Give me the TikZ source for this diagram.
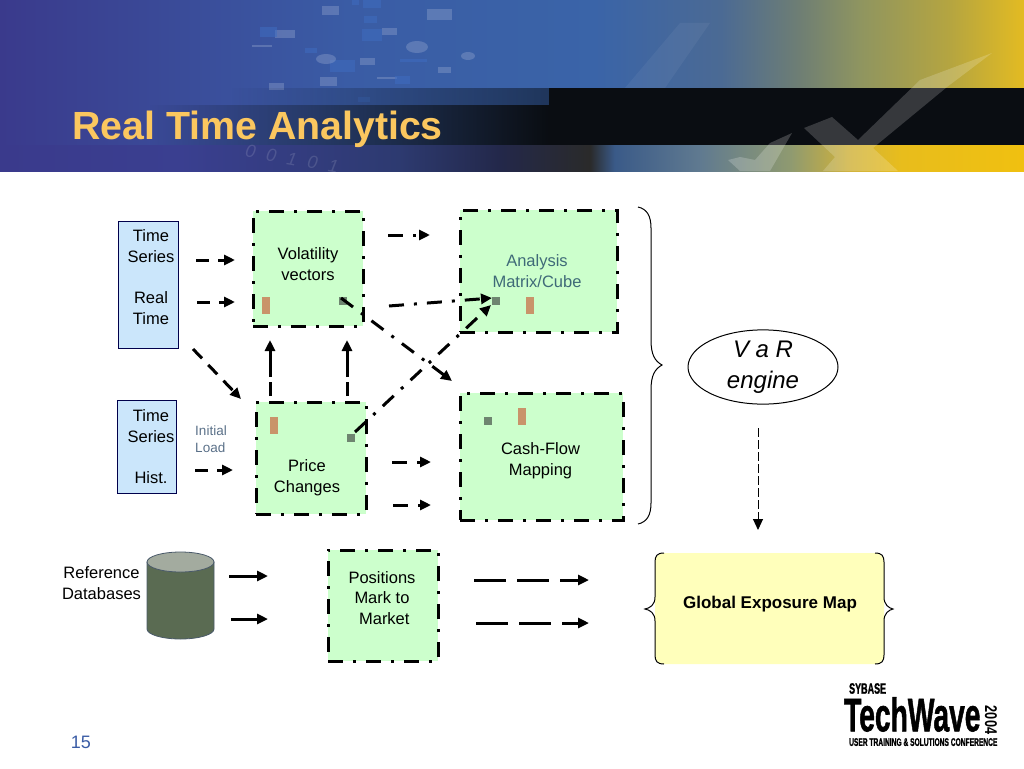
\documentclass[tikz,border=0pt]{standalone}
\usepackage{fontspec}
\setmainfont{Liberation Sans}
\newfontfamily\logofont[FakeBold=1.5]{Liberation Sans Bold}
\usepackage{tikz}
\usetikzlibrary{
  arrows.meta,
  calc,
  fadings,
  shapes.geometric
}
\definecolor{skyA}{HTML}{3A3A8C}
\definecolor{skyB}{HTML}{3A5CA5}
\definecolor{skyC}{HTML}{3A64A8}
\definecolor{skyD}{HTML}{4B6A94}
\definecolor{skyE}{HTML}{6E7E74}
\definecolor{skyF}{HTML}{8F9560}
\definecolor{skyG}{HTML}{B5A540}
\definecolor{skyH}{HTML}{E3BB22}
\definecolor{lowA}{HTML}{3A3F90}
\definecolor{lowB}{HTML}{2D3A70}
\definecolor{lowC}{HTML}{23284A}
\definecolor{lowD}{HTML}{2A2A2A}
\definecolor{lowE}{HTML}{3A5A88}
\definecolor{lowF}{HTML}{607A90}
\definecolor{lowG}{HTML}{8F9A70}
\definecolor{lowH}{HTML}{D0B23A}
\definecolor{lowI}{HTML}{E8BD1C}
\definecolor{bandDark}{HTML}{0A0D12}
\definecolor{bandYellow}{HTML}{F0C010}
\definecolor{titleGold}{HTML}{FBC75F}
\definecolor{boxGreen}{HTML}{CCFFCC}
\definecolor{boxBlue}{HTML}{CBE6FB}
\definecolor{boxYellow}{HTML}{FFFFBB}
\definecolor{markTan}{HTML}{C9946A}
\definecolor{markGrey}{HTML}{6E8570}
\definecolor{noteBlue}{HTML}{5A7088}
\definecolor{cubeBlue}{HTML}{3F6A78}
\definecolor{dbBody}{HTML}{5A6B52}
\definecolor{dbTop}{HTML}{A3AB9F}
\definecolor{dbEdge}{HTML}{4A5A6A}
\definecolor{bitBlue}{HTML}{3E6CC0}
\pgfdeclarehorizontalshading{skyshade}{100bp}{
  color(0bp)=(skyA); color(25bp)=(skyA); color(42bp)=(skyB); color(54bp)=(skyC);
  color(60.2bp)=(skyD); color(64bp)=(skyE); color(67bp)=(skyF); color(71.4bp)=(skyG);
  color(75bp)=(skyH); color(100bp)=(skyH)}
\pgfdeclarehorizontalshading{lowshade}{100bp}{
  color(0bp)=(skyA); color(25bp)=(skyA); color(33.8bp)=(lowA); color(44.5bp)=(lowB);
  color(49.4bp)=(lowC); color(53.8bp)=(lowD); color(55bp)=(lowE); color(59.2bp)=(lowF);
  color(63.6bp)=(lowG); color(66.5bp)=(lowH); color(69bp)=(lowI); color(75bp)=(bandYellow);
  color(100bp)=(bandYellow)}
\tikzset{>={Stealth[length=11pt,width=10pt,inset=0pt]}}
\tikzset{
  greenbox/.style={draw=black,fill=boxGreen,line width=3pt,inner sep=0pt,
    dash pattern=on 15pt off 10pt on 3pt off 10pt},
  bluebox/.style={draw=black!70!blue,fill=boxBlue,line width=1pt,inner sep=0pt},
  bodytext/.style={font=\fontsize{16.5}{20.8}\selectfont,align=center,inner sep=0pt},
  dashflow/.style={->,line width=3pt,dash pattern=on 13pt off 9pt},
  dotflow/.style={->,line width=3pt,dash pattern=on 15pt off 10pt on 3pt off 10pt},
  longflow/.style={->,line width=3pt,dash pattern=on 32pt off 11pt},
  upflow/.style={->,line width=3pt,dash pattern=on 14pt off 5pt on 50pt off 1pt},
  solidflow/.style={->,line width=3pt},
  tanmark/.style={fill=markTan,inner sep=0pt,minimum width=8pt,minimum height=17pt},
  greymark/.style={fill=markGrey,inner sep=0pt,minimum size=8pt},
  decobit/.style={fill=white!50!skyB,opacity=.35},
  decoblue/.style={fill=bitBlue,opacity=.55},
  logotext/.style={inner sep=0pt}
}
\begin{document}
\begin{tikzpicture}[x=1pt,y=-1pt]
	\useasboundingbox (0,0) rectangle (1024,768);
	% title banner
	\shade[shading=skyshade] (0,0) rectangle (1024,145);
	\foreach \x/\y/\w/\h in {322/6/17/9,427/9/25/11,382/28/15/7,360/58/15/7,438/67/13/6,269/83/15/7,320/77/17/9,275/30/20/8,252/45/20/2,377/77/20/2}
		\fill[decobit] (\x,\y) rectangle ++(\w,\h);
	\foreach \x/\y/\w/\h in {352/0/7/5,363/0/18/8,364/16/13/7,362/29/20/12,330/60/25/12,400/59/27/3,395/76/15/8,358/97/12/5,305/48/12/5,260/27/17/10}
		\fill[decoblue] (\x,\y) rectangle ++(\w,\h);
	\foreach \x/\y/\r/\s in {417/47/11/6,468/56/7/4,326/59/10/5}
		\fill[decobit] (\x,\y) ellipse ({\r pt} and {\s pt});
	\fill[white,opacity=.05] (710,23) -- (665,88) -- (625,88) -- (680,23) -- cycle;
	\fill[black,opacity=.45,path fading=west] (230,88) rectangle (549,105);
	\fill[bandDark,path fading=west] (150,105) rectangle (549,145);
	\fill[bandDark] (549,88) rectangle (1024,145);
	\shade[shading=lowshade] (0,145) rectangle (1024,171);
	\fill[white,opacity=.18] (992,53) -- (920,80) -- (858,140) -- (832,117) -- (804,128) -- (835,157) -- (823,171) -- (898,171) -- (873,148) -- (947,87) -- cycle;
	\fill[white,opacity=.2] (792,133) -- (770,143) -- (755,160) -- (740,157) -- (728,160) -- (740,171) -- (770,171) -- cycle;
	\node[opacity=.13,text=white,inner sep=0pt,rotate=-10,font=\fontsize{18}{18}\selectfont\itshape] (digits) at (292,159) {0\hspace{11pt}0\hspace{11pt}1\hspace{11pt}0\hspace{11pt}1};
	\node[anchor=base west,inner sep=0pt,text=titleGold,font=\fontsize{39.3}{39}\selectfont\bfseries] (title) at (72,139) {Real Time Analytics};
	% source boxes
	\node[bluebox,minimum width=60pt,minimum height=127pt] (rtbox) at (148,284.5) {};
	\node[bluebox,minimum width=59pt,minimum height=93pt] (histbox) at (146.5,446.5) {};
	\node[bodytext] (rtlabel) at (151,277) {Time\\Series\\[20.8pt]Real\\Time};
	\node[bodytext] (histlabel) at (151,446.5) {Time\\Series\\[20.8pt]Hist.};
	\node[inner sep=0pt,align=left,text=noteBlue,font=\fontsize{13.5}{17}\selectfont] (initload) at (211,439.5) {Initial\\Load};
	% processing boxes
	\node[greenbox,minimum width=110pt,minimum height=115pt] (volbox) at (308,268.5) {};
	\node[greenbox,minimum width=110pt,minimum height=112pt] (pricebox) at (311,458) {};
	\node[greenbox,minimum width=157pt,minimum height=122pt] (cubebox) at (538.5,271) {};
	\node[greenbox,minimum width=163pt,minimum height=127pt] (cashbox) at (541.5,456.5) {};
	\node[greenbox,minimum width=110pt,minimum height=111pt] (posbox) at (383,605.5) {};
	\node[bodytext] (vollabel) at (308,264) {Volatility\\vectors};
	\node[bodytext] (pricelabel) at (307,477.5) {Price\\Changes};
	\node[bodytext,text=cubeBlue] (cubelabel) at (537,271) {Analysis\\Matrix/Cube};
	\node[bodytext] (cashlabel) at (540.5,460.5) {Cash-Flow\\Mapping};
	\node[bodytext] (poslabel) at (382,598) {Positions\\Mark to\\\ Market};
	% markers
	\node[tanmark] (voltan) at (266,305.5) {};
	\node[tanmark] (pricetan) at (274,425.5) {};
	\node[tanmark] (cubetan) at (530,305.5) {};
	\node[tanmark] (cashtan) at (521.5,416.5) {};
	\node[greymark] (volgrey) at (343,301) {};
	\node[greymark] (pricegrey) at (351,437.5) {};
	\node[greymark] (cubegrey) at (496,301) {};
	\node[greymark] (cashgrey) at (487.5,421) {};
	% reference data
	\node[bodytext] (reflabel) at (101.5,583) {Reference\\Databases};
	\filldraw[fill=dbBody,draw=dbEdge,line width=.8pt] (147,562) -- (147,629) arc[x radius=33.5,y radius=10,start angle=180,end angle=0] -- (214,562) -- cycle;
	\filldraw[fill=dbTop,draw=dbEdge,line width=.8pt] (180.5,562) ellipse [x radius=33.5,y radius=10];
	% result shapes
	\node[ellipse,draw,line width=1pt,minimum width=150pt,minimum height=74pt,inner sep=0pt,align=center,
		font=\fontsize{24}{31}\selectfont\itshape] (varengine) at (763,367) {V a R\\engine};
	\node[fill=boxYellow,rounded corners=9pt,minimum width=229pt,minimum height=111pt,inner sep=0pt] (gemap) at (769.5,608.5) {};
	\node[inner sep=0pt,font=\fontsize{17}{20}\selectfont\bfseries] (gemlabel) at (770,604) {Global Exposure Map};
	\draw[line width=1pt] (664,553) .. controls (657,553) and (655,556) .. (655,562) -- (655,597) .. controls (655,605) and (650,608) .. (645,609)
		.. controls (650,610) and (655,613) .. (655,621) -- (655,655) .. controls (655,661) and (657,664) .. (664,664);
	\draw[line width=1pt] (875,553) .. controls (882,553) and (884,556) .. (884,562) -- (884,597) .. controls (884,605) and (889,608) .. (893,609)
		.. controls (889,610) and (884,613) .. (884,621) -- (884,655) .. controls (884,661) and (882,664) .. (875,664);
	\draw[line width=1pt] (638,207) .. controls (647,209) and (651,216) .. (651,228) -- (651,340) .. controls (651,355) and (655,361) .. (662,365)
		.. controls (655,369) and (651,375) .. (651,390) -- (651,503) .. controls (651,515) and (647,522) .. (638,524);
	% connector ends
	\coordinate (a1) at (196,260);
	\coordinate (a2) at (235,260);
	\coordinate (b1) at (197,302);
	\coordinate (b2) at (235,302);
	\coordinate (c1) at (193,349);
	\coordinate (c2) at (241,399);
	\coordinate (d1) at (195,470);
	\coordinate (d2) at (233,470);
	\coordinate (e1) at (270,396);
	\coordinate (e2) at (270,340);
	\coordinate (f1) at (347,396);
	\coordinate (f2) at (347,340);
	\coordinate (g1) at (388,235);
	\coordinate (g2) at (430,235);
	\coordinate (h1) at (389,306);
	\coordinate (h2) at (492,298);
	\coordinate (i1) at (341,298);
	\coordinate (i2) at (452,381);
	\coordinate (j1) at (355,432);
	\coordinate (j2) at (491,305);
	\coordinate (k1) at (392,462);
	\coordinate (k2) at (431,462);
	\coordinate (l1) at (393,505);
	\coordinate (l2) at (431,505);
	\coordinate (m1) at (229,576);
	\coordinate (m2) at (268,576);
	\coordinate (n1) at (231,619);
	\coordinate (n2) at (268,619);
	\coordinate (o1) at (474,580);
	\coordinate (o2) at (589,580);
	\coordinate (p1) at (476,623);
	\coordinate (p2) at (589,623);
	\coordinate (q1) at (758,428);
	\coordinate (q2) at (758,530);
	\draw[dashflow] (a1)--(a2);
	\draw[dashflow] (b1)--(b2);
	\draw[dashflow] (c1)--(c2);
	\draw[dashflow] (d1)--(d2);
	\draw[upflow] (e1)--(e2);
	\draw[upflow] (f1)--(f2);
	\draw[dotflow] (g1)--(g2);
	\draw[dotflow] (h1)--(h2);
	\draw[dotflow] (i1)--(i2);
	\draw[dotflow] (j1)--(j2);
	\draw[dotflow] (k1)--(k2);
	\draw[dotflow] (l1)--(l2);
	\draw[solidflow] (m1)--(m2);
	\draw[solidflow] (n1)--(n2);
	\draw[longflow] (o1)--(o2);
	\draw[longflow] (p1)--(p2);
	\draw[->,line width=1pt,dash pattern=on 9pt off 3pt] (q1)--(q2);
	% logo
	\node[logotext,anchor=north west,xscale=.6,font=\fontsize{15}{15}\selectfont\logofont] (sybase) at (849,683) {SYBASE};
	\node[logotext,anchor=north west,xscale=.6,font=\fontsize{47}{47}\selectfont\logofont] (techwave) at (844,697) {TechWave};
	\node[logotext,rotate=-90,xscale=.75,font=\fontsize{17}{17}\selectfont\bfseries] (logoyear) at (991,720) {2004};
	\node[logotext,anchor=north west,xscale=.605,font=\fontsize{11}{11}\selectfont\logofont] (logoline) at (849,738) {USER TRAINING \& SOLUTIONS CONFERENCE};
	\node[inner sep=0pt,text=skyB,font=\fontsize{18}{18}\selectfont] (pagenum) at (81,742) {15};
\end{tikzpicture}
\end{document}
